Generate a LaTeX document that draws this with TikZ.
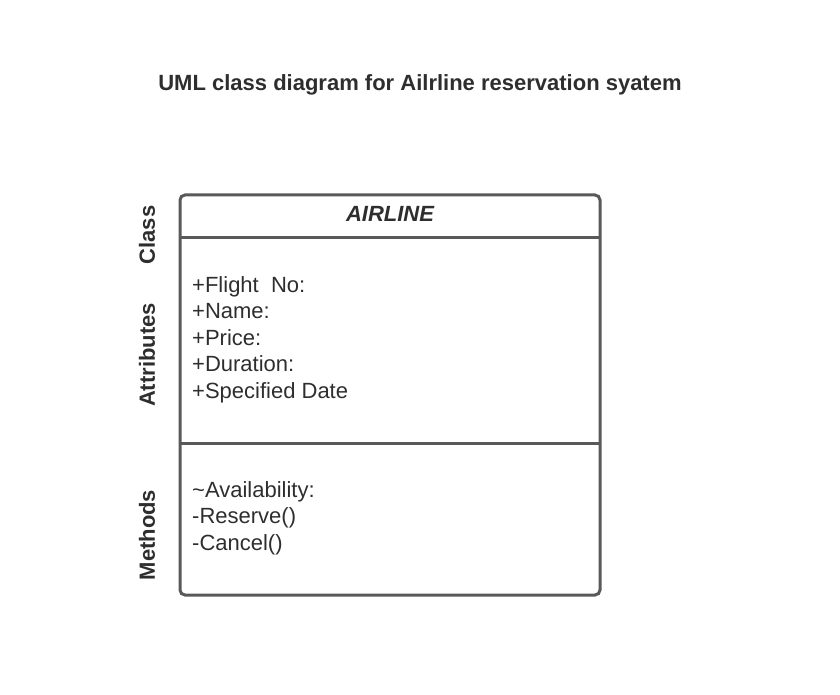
\documentclass[tikz,border=0pt]{standalone}
\usepackage{fontspec}
\setmainfont{Liberation Sans}
\definecolor{txt}{HTML}{2E2E2E}
\definecolor{ln}{HTML}{595959}
\begin{document}
\begin{tikzpicture}[x=1pt,y=-1pt,
  every node/.style={inner sep=0pt,text=txt,font=\fontsize{22}{26.5}\selectfont},
  sidelabel/.style={rotate=90,font=\fontsize{22}{26.5}\selectfont\bfseries},
  item/.style={anchor=base west,align=left},
  border/.style={ln,line width=3pt}]
\useasboundingbox (0,0) rectangle (840,695);
\node (title) at (420,85) {\bfseries UML class diagram for Ailrline reservation syatem};
\draw[border,rounded corners=5pt] (180,195) rectangle (600,595);
\coordinate (d1l) at (180,237); \coordinate (d1r) at (600,237);
\coordinate (d2l) at (180,443); \coordinate (d2r) at (600,443);
\draw[border] (d1l) -- (d1r);
\draw[border] (d2l) -- (d2r);
\node (cname) at (390,214) {\bfseries\itshape AIRLINE};
\node[item] (attr) at (192,292) {+Flight\ \ No:};
\node[item] (a2) at (192,318.5) {+Name:};
\node[item] (a3) at (192,345) {+Price:};
\node[item] (a4) at (192,371.5) {+Duration:};
\node[item] (a5) at (192,398) {+Specified Date};
\node[item] (m1) at (192,497) {\char"7E Availability:};
\node[item] (m2) at (192,523.5) {-Reserve()};
\node[item] (m3) at (192,550) {-Cancel()};
\node[sidelabel] (lclass) at (147,235) {Class};
\node[sidelabel] (lattr) at (147,355) {Attributes};
\node[sidelabel] (lmeth) at (147,535) {Methods};
\end{tikzpicture}
\end{document}
